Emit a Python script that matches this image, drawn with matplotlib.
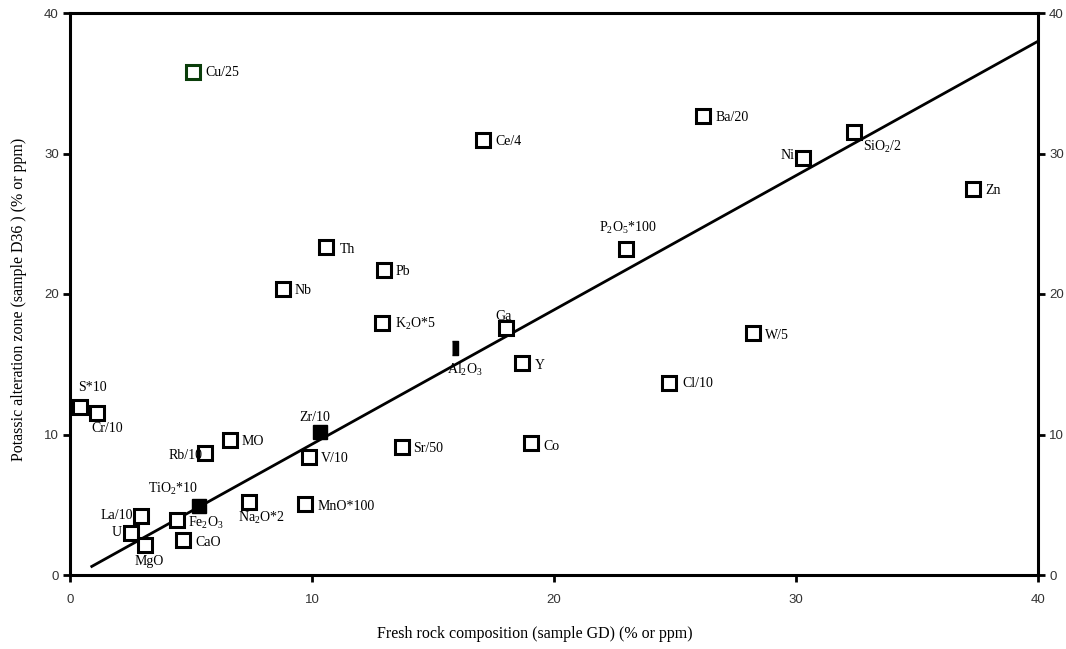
import matplotlib
matplotlib.use("Agg")
import matplotlib.pyplot as plt

plt.rcParams['mathtext.fontset'] = 'custom'
plt.rcParams['mathtext.rm'] = 'Liberation Serif'

# element labels, fresh rock (x) vs alteration zone (y)
names = ["Cu/25", "Ce/4", "Ba/20", "Ni", r"Si$\mathregular{O_2}$/2", "Zn",
         r"$\mathregular{P_2O_5}$*100", "Th", "Pb", "Nb", r"$\mathregular{K_2}$O*5", "Ga",
         "W/5", "Y", "Cl/10", "S*10", "Cr/10", "MO", "Rb/10", "V/10", "Sr/50",
         "Co", r"$\mathregular{Na_2}$O*2", "MnO*100", "La/10", r"$\mathregular{Fe_2O_3}$",
         "U", "MgO", "CaO"]
fresh = [5.08, 17.07, 26.16, 30.29, 32.4, 37.31,
         22.98, 10.58, 12.98, 8.8, 12.89, 18.02,
         28.22, 18.68, 24.75, 0.41, 1.12, 6.61, 5.58, 9.88, 13.72,
         19.05, 7.4, 9.71, 2.93, 4.42,
         2.52, 3.1, 4.67]
altered = [35.8, 30.96, 32.67, 29.68, 31.53, 27.47,
           23.2, 23.35, 21.7, 20.36, 17.94, 17.58,
           17.22, 15.09, 13.67, 11.96, 11.53, 9.61, 8.68, 8.4, 9.11,
           9.4, 5.2, 5.05, 4.2, 3.91,
           2.99, 2.14, 2.49]

# filled markers
fnames = [r"Zr/10", r"Ti$\mathregular{O_2}$*10"]
ffresh = [10.33, 5.33]
faltered = [10.18, 4.91]
al_name = r"A$\mathregular{l_2O_3}$"
al_fresh, al_altered = 15.9, 16.16

# regression line
line_x = [0.9, 40.0]
slope, intercept = 0.956, -0.25

# label offsets in pixels (dx, dy, ha)
offsets = {
    "Cu/25": (12, 0, "left"), "Ce/4": (12, -1, "left"), "Ba/20": (12, -2, "left"),
    "Ni": (-8, 2, "right"), r"Si$\mathregular{O_2}$/2": (9, -15, "left"),
    "Zn": (12, -1, "left"), r"$\mathregular{P_2O_5}$*100": (2, 21, "center"),
    "Th": (14, -3, "left"), "Pb": (11, -1, "left"), "Nb": (12, -2, "left"),
    r"$\mathregular{K_2}$O*5": (13, -1, "left"), "Ga": (-3, 12, "center"),
    "W/5": (12, -2, "left"), "Y": (13, -3, "left"), "Cl/10": (13, -1, "left"),
    "S*10": (13, 19, "center"), "Cr/10": (10, -15, "center"), "MO": (12, -2, "left"),
    "Rb/10": (-3, -2, "right"), "V/10": (12, -2, "left"), "Sr/50": (11, -1, "left"),
    "Co": (12, -4, "left"), r"$\mathregular{Na_2}$O*2": (12, -16, "center"),
    "MnO*100": (13, -2, "left"), "La/10": (-8, 0, "right"),
    r"$\mathregular{Fe_2O_3}$": (11, -3, "left"), "U": (-9, 0, "right"),
    "MgO": (4, -17, "center"), "CaO": (12, -2, "left"),
    "Zr/10": (-5, 14, "center"), r"Ti$\mathregular{O_2}$*10": (-26, 17, "center"),
}

fig = plt.figure(figsize=(10.66, 6.49), dpi=100)
ax = fig.add_axes([70 / 1066, 74 / 649, 968 / 1066, 562 / 649])

lx = line_x
ly = [slope * v + intercept for v in lx]
ax.plot(lx, ly, color="black", lw=2.0, zorder=2)

for n, x, y in zip(names, fresh, altered):
    ec = "#0a3d0a" if n == "Cu/25" else "black"
    ax.plot(x, y, marker="s", ms=9.5, mfc="white", mec=ec, mew=2.2, zorder=3)
for n, x, y in zip(fnames, ffresh, faltered):
    ax.plot(x, y, marker="s", ms=10, mfc="black", mec="black", zorder=3)
ax.plot(al_fresh, al_altered,
        marker=[(-0.5, -1), (0.5, -1), (0.5, 1), (-0.5, 1)],
        ms=10, mfc="black", mec="black", zorder=3)

for n, x, y in zip(names + fnames + [al_name], fresh + ffresh + [al_fresh],
                   altered + faltered + [al_altered]):
    dx, dy, ha = offsets.get(n, (10, -22, "center"))
    ax.annotate(n, (x, y), xytext=(dx, dy), textcoords="offset pixels",
                ha=ha, va="center", fontsize=10, family="Liberation Serif", zorder=4)

ax.set_xlim(0, 40)
ax.set_ylim(0, 40)
ax.set_xticks([0, 10, 20, 30, 40])
ax.set_yticks([0, 10, 20, 30, 40])
for s in ax.spines.values():
    s.set_linewidth(2.2)
ax.tick_params(axis="x", direction="out", length=5, width=2, pad=9,
               labelsize=9.5, labelcolor="#333333")
ax.tick_params(axis="y", direction="out", length=5, width=2, pad=3,
               labelsize=9.5, labelcolor="#333333")
ax.tick_params(axis="y", which="both", right=True, labelright=True)
for lab in ax.get_xticklabels() + ax.get_yticklabels():
    lab.set_family("Liberation Sans")

ax.set_xlabel("Fresh rock composition (sample GD) (% or ppm)",
              family="Liberation Serif", fontsize=11.5)
ax.xaxis.set_label_coords(0.48, -0.09)
ax.set_ylabel("Potassic alteration zone (sample D36 ) (% or ppm)",
              family="Liberation Serif", fontsize=11.5)
ax.yaxis.set_label_coords(-0.044, 0.49)

fig.savefig("out.png", dpi=100)
